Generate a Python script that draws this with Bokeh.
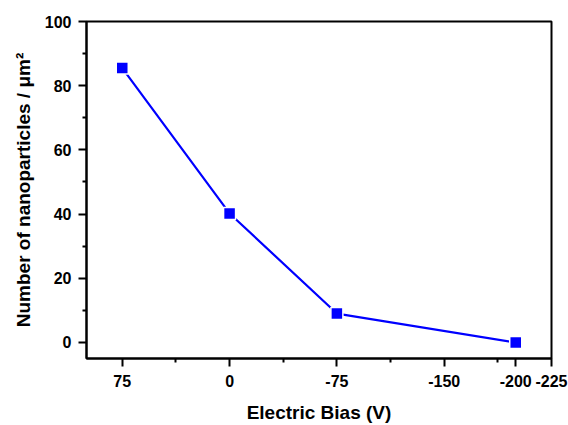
from bokeh.plotting import figure
from bokeh.models import Range1d, FixedTicker
from bokeh.embed import file_html
from bokeh.resources import INLINE

# Data
bias = [75, 0, -75, -200]
density = [85.5, 40.2, 9.0, 0.0]
x_ticks = [75, 0, -75, -150, -200, -225]
x_tick_labels = ["75", "0", "-75", "-150", "-200", "-225"]
x_minor = [37.5, -37.5, -112.5, -187.5]
y_ticks = [0, 20, 40, 60, 80, 100]
y_minor = [10, 30, 50, 70, 90]

FONT = "Liberation Sans"

p = figure(width=568, height=425, output_backend="svg", toolbar_location=None,
           x_range=Range1d(100, -225), y_range=Range1d(-5, 100),
           min_border_left=86, min_border_right=17, min_border_top=21, min_border_bottom=66,
           x_axis_label="Electric Bias (V)", y_axis_label="Number of nanoparticles / μm²")
p.grid.visible = False
p.outline_line_color = "black"
p.outline_line_width = 2

p.xaxis.ticker = FixedTicker(ticks=x_ticks, minor_ticks=x_minor)
p.xaxis.major_label_overrides = {float(t): s for t, s in zip(x_ticks, x_tick_labels)}
p.yaxis.ticker = FixedTicker(ticks=y_ticks, minor_ticks=y_minor)

for ax in (p.xaxis[0], p.yaxis[0]):
    ax.axis_line_width = 2
    ax.major_tick_line_width = 2
    ax.minor_tick_line_width = 2
    ax.major_tick_in = 0
    ax.major_tick_out = 8
    ax.minor_tick_in = 0
    ax.minor_tick_out = 4
    ax.major_label_text_font = FONT
    ax.major_label_text_font_style = "bold"
    ax.major_label_text_font_size = "16px"
    ax.major_label_text_color = "black"
    ax.axis_label_text_font = FONT
    ax.axis_label_text_font_style = "bold"
    ax.axis_label_text_font_size = "19px"
    ax.axis_label_text_color = "black"
p.xaxis.major_label_standoff = 8
p.xaxis.axis_label_standoff = 12
p.yaxis.major_label_standoff = 7
p.yaxis.axis_label_standoff = 8

p.line(bias, density, line_color="#0000FF", line_width=2.2)
p.scatter(bias, density, marker="square", size=12, fill_color="#0000FF",
          line_color="white", line_width=1.5)

open("out.html", "w").write(file_html(p, INLINE))
